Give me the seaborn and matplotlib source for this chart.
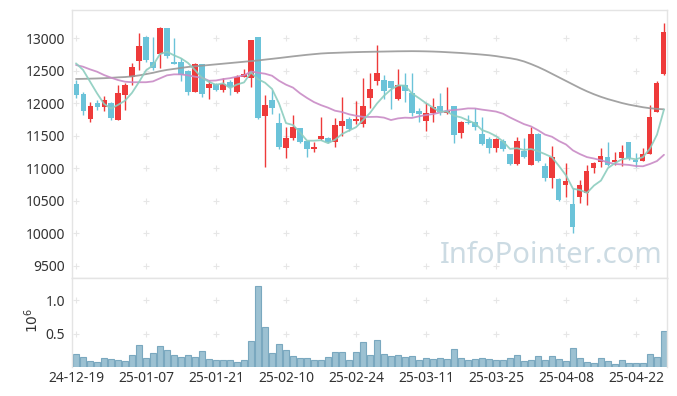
import numpy as np
import pandas as pd
import seaborn as sns
import matplotlib
matplotlib.use("Agg")
import matplotlib.pyplot as plt

sns.set_style("white")
plt.rcParams["font.family"] = ["Noto Sans", "DejaVu Sans"]

# daily OHLC (KRW), 85 trading days 24-12-19 .. 25-04-28
opens = [12300, 12140, 11750, 11995, 11945, 11995, 11740, 12123, 12395, 12650,
         13020, 12636, 12754, 13149, 12630, 12630, 12497, 12174, 12600, 12226,
         12292, 12200, 12318, 12174, 12405, 12390, 13010, 11800, 12046, 11687,
         11302, 11456, 11610, 11420, 11297, 11451, 11466, 11405, 11646, 11754,
         11723, 11677, 12072, 12343, 12354, 12338, 12057, 12277, 12159, 11877,
         11728, 11841, 11954, 11841, 11954, 11543, 11713, 11703, 11523, 11441,
         11313, 11415, 11215, 11062, 11267, 11046, 11523, 11026, 10841, 10831,
         10738, 10446, 10549, 10621, 11005, 11097, 11174, 11097, 11149, 11395,
         11123, 11113, 11215, 11866, 12446]
closes = [12120, 11870, 11955, 11945, 12045, 11765, 12150, 12277, 12550, 12877,
          12660, 12534, 13149, 12723, 12605, 12430, 12174, 12600, 12138, 12288,
          12200, 12292, 12241, 12405, 12446, 12970, 11774, 11969, 11928, 11328,
          11456, 11626, 11405, 11287, 11328, 11492, 11405, 11661, 11728, 11595,
          11749, 11954, 12210, 12456, 12190, 12226, 12277, 12190, 11851, 11831,
          11841, 11933, 11866, 11877, 11508, 11713, 11697, 11636, 11369, 11313,
          11441, 11287, 11062, 11420, 11174, 11523, 11113, 10841, 11174, 10508,
          10800, 10087, 10738, 10954, 11072, 11185, 11046, 11123, 11246, 11159,
          11097, 11215, 11780, 12313, 13097]
highs = [12350, 12170, 12020, 12045, 12110, 12020, 12280, 12303, 12620, 13070,
         13030, 13020, 13174, 13150, 12995, 12690, 12508, 12610, 12600, 12354,
         12310, 12380, 12354, 12430, 12518, 12975, 13010, 12123, 12200, 11850,
         11636, 11815, 11610, 11420, 11405, 11780, 11480, 11764, 12087, 11780,
         12035, 12380, 12467, 12890, 12431, 12338, 12518, 12467, 12456, 11918,
         11995, 12072, 12149, 12241, 11960, 11728, 11815, 11918, 11780, 11472,
         11460, 11450, 11220, 11472, 11456, 11626, 11540, 11082, 11338, 10840,
         11072, 10687, 10815, 11046, 11097, 11303, 11395, 11250, 11354, 11395,
         11236, 11303, 11969, 12344, 13226]
lows = [12070, 11820, 11710, 11890, 11880, 11740, 11738, 11890, 12280, 12510,
        12635, 12508, 12534, 12700, 12600, 12340, 12123, 12170, 12097, 12057,
        12180, 12174, 12123, 12160, 12395, 12241, 11749, 11010, 11830, 11300,
        11149, 11430, 11390, 11174, 11250, 11430, 11380, 11318, 11492, 11570,
        11677, 11636, 11918, 12277, 12057, 11903, 12050, 12020, 11800, 11713,
        11574, 11713, 11815, 11831, 11379, 11456, 11677, 11585, 11354, 11226,
        11240, 11260, 11050, 11046, 11149, 11040, 11100, 10805, 10687, 10500,
        10558, 10005, 10466, 10431, 10918, 11020, 11031, 11040, 11031, 11130,
        11010, 11110, 11210, 11860, 12431]
volumes = [194000, 149000, 90000, 75000, 134000, 119000, 104000, 90000, 179000, 328000,
           134000, 209000, 313000, 254000, 179000, 149000, 179000, 149000, 239000, 119000,
           104000, 104000, 104000, 75000, 104000, 388000, 1209000, 597000, 209000, 343000,
           254000, 164000, 134000, 134000, 104000, 104000, 149000, 224000, 224000, 104000,
           224000, 373000, 179000, 403000, 194000, 164000, 179000, 149000, 164000, 104000,
           134000, 119000, 134000, 119000, 269000, 134000, 104000, 119000, 134000, 119000,
           104000, 104000, 134000, 179000, 90000, 104000, 164000, 104000, 164000, 119000,
           90000, 284000, 134000, 75000, 60000, 134000, 90000, 45000, 104000, 60000,
           60000, 60000, 194000, 149000, 537000]

# moving averages: the first points depend on days before the window
ma5_head = [12610, 12510, 12330, 12150]
ma20_head = [12585, 12559, 12518, 12482, 12431, 12390, 12354, 12328, 12320, 12320,
             12320, 12333, 12380, 12426, 12441, 12441, 12426, 12405, 12390]
ma120 = [12370, 12372, 12375, 12378, 12382, 12388, 12395, 12400, 12410, 12425,
         12445, 12465, 12490, 12510, 12525, 12540, 12555, 12565, 12575, 12585,
         12595, 12605, 12615, 12625, 12635, 12645, 12655, 12668, 12680, 12692,
         12705, 12718, 12730, 12742, 12752, 12762, 12768, 12772, 12776, 12780,
         12783, 12786, 12788, 12790, 12792, 12794, 12796, 12797, 12798, 12797,
         12795, 12792, 12788, 12782, 12776, 12770, 12762, 12754, 12745, 12735,
         12722, 12705, 12690, 12670, 12640, 12600, 12555, 12505, 12450, 12395,
         12340, 12285, 12230, 12180, 12135, 12095, 12060, 12030, 12000, 11975,
         11955, 11935, 11920, 11910, 11903]

tick_pos = [0, 10, 20, 30, 40, 50, 60, 70, 80]
tick_labels = ["24-12-19", "25-01-07", "25-01-21", "25-02-10", "25-02-24",
               "25-03-11", "25-03-25", "25-04-08", "25-04-22"]

df = pd.DataFrame({"open": opens, "high": highs, "low": lows, "close": closes,
                   "vol": np.array(volumes) / 1e6})
df["idx"] = np.arange(len(df))
ma5 = df["close"].rolling(5).mean()
ma5.iloc[:4] = ma5_head
ma20 = df["close"].rolling(20).mean()
ma20.iloc[:19] = ma20_head
df["ma5"] = ma5
df["ma20"] = ma20
df["ma120"] = ma120

RED = "#EE3A3A"
BLUE = "#6BC3D9"
GRID = "#E6E6E6"
SPINE = "#E4E4E4"
TXT = "#333333"

fig = plt.figure(figsize=(6.77, 3.96), dpi=100)
ax = fig.add_axes([0.1064, 0.298, 0.8788, 0.6767])
axv = fig.add_axes([0.1064, 0.0725, 0.8788, 0.2255])

# candles
up = df["close"] >= df["open"]
cols = np.where(up, RED, BLUE)
ax.vlines(df["idx"], df["low"], df["high"], colors=cols, lw=1.0, zorder=2)
bottom = np.minimum(df["open"], df["close"])
height = np.maximum((df["close"] - df["open"]).abs(), 14)
ax.bar(df["idx"], height, bottom=bottom, width=0.72, color=cols, linewidth=0, zorder=3)

sns.lineplot(data=df, x="idx", y="ma120", ax=ax, color="#999999", lw=1.3, alpha=0.9, zorder=4)
sns.lineplot(data=df, x="idx", y="ma20", ax=ax, color="#C98BC6", lw=1.3, alpha=0.9, zorder=4)
sns.lineplot(data=df, x="idx", y="ma5", ax=ax, color="#8CCDBF", lw=1.3, alpha=0.9, zorder=4)

yt = list(range(9500, 13001, 500))
ax.set_ylim(9308, 13431)
ax.set_xlim(-0.57, 84.43)
ax.set_yticks(yt)
ax.set_yticklabels([str(v) for v in yt])
ax.set_xticks(tick_pos)
ax.set_xticklabels([])
xx, yy = np.meshgrid(tick_pos, yt)
ax.scatter(xx.ravel(), yy.ravel(), marker="+", s=16, color=GRID, lw=0.8, zorder=1)
ax.text(0.805, 0.085, "InfoPointer.com", transform=ax.transAxes, ha="center", va="center",
        fontsize=21, color="#CCDBE3", zorder=0)

# volume
sns.barplot(data=df, x="idx", y="vol", ax=axv, native_scale=True, color="#9CC1D2",
            edgecolor="#7AA8BF", linewidth=0.8, width=0.95, saturation=1)
axv.set_xlim(-0.57, 84.43)
axv.set_ylim(0, 1.33)
axv.set_yticks([0.5, 1.0])
axv.set_yticklabels(["0.5", "1.0"])
axv.set_xticks(tick_pos)
axv.set_xticklabels(tick_labels)
xx, yy = np.meshgrid(tick_pos, [0.5, 1.0])
axv.scatter(xx.ravel(), yy.ravel(), marker="+", s=16, color=GRID, lw=0.8, zorder=0)
fig.text(0.049, 0.19, r"$10^6$", rotation=90, ha="center", va="center", fontsize=10, color=TXT)

for a in (ax, axv):
    a.set_xlabel("")
    a.set_ylabel("")
    a.tick_params(length=0, labelsize=10, labelcolor=TXT, pad=5)
    for s in a.spines.values():
        s.set_color(SPINE)
        s.set_linewidth(1)
axv.spines["bottom"].set_visible(False)
axv.tick_params(axis="x", pad=3)

fig.savefig("out.png", dpi=100)
